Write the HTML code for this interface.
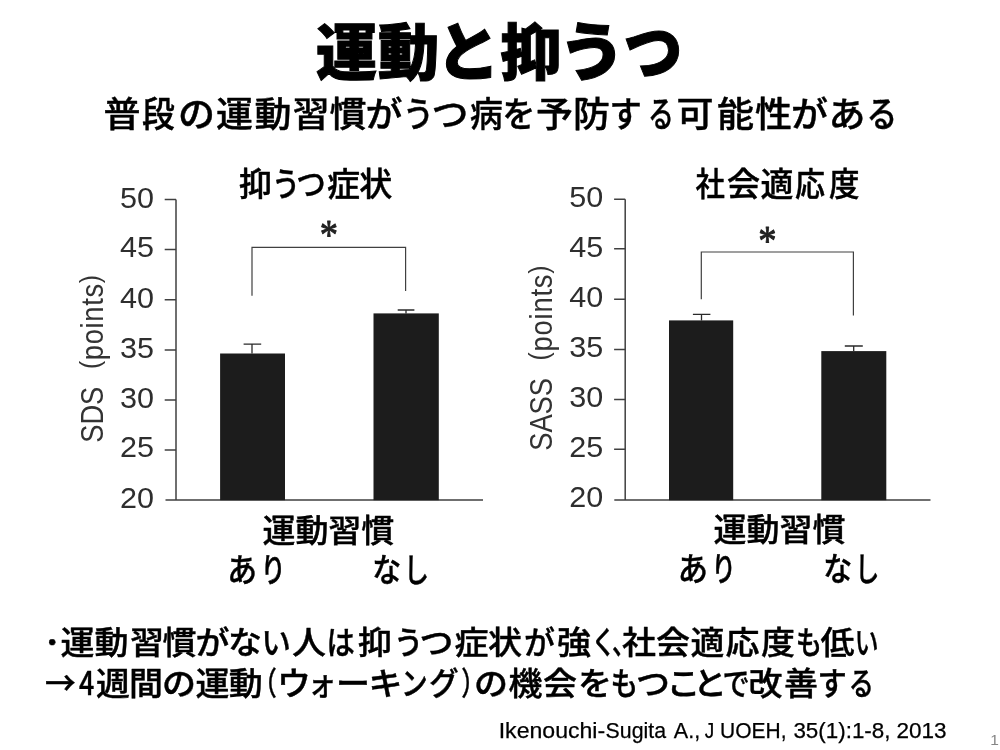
<!DOCTYPE html>
<html lang="ja">
<head>
<meta charset="utf-8">
<title>運動と抑うつ</title>
<style>
html,body{margin:0;padding:0;background:#fff;}
body{width:1000px;height:750px;position:relative;overflow:hidden;font-family:"Liberation Sans","Noto Sans CJK JP",sans-serif;color:#000;}
svg{position:absolute;left:0;top:0;display:block;}
</style>
</head>
<body>

<svg width="1000" height="750" viewBox="0 0 1000 750" font-family="'Liberation Sans',sans-serif">
 <g id="c1" stroke="#404040" stroke-width="1.5" fill="none">
  <path d="M176 199.5V500M165.5 500H483"/>
  <path d="M164.7 199.5H176M164.7 249.4H176M164.7 299.8H176M164.7 350H176M164.7 400H176M164.7 449.9H176"/>
  <path d="M252 295.8V247.4H405.6V291" stroke-width="1.2"/>
  <path d="M252 353.5V344.2M243.6 344.2H261.2M406 313.5V310M397.7 310H414.4" stroke="#2a2a2a" stroke-width="1.3"/>
 </g>
 <rect x="220.1" y="353.5" width="64.9" height="146.7" fill="#1c1c1c"/>
 <rect x="373.5" y="313.4" width="65.3" height="186.8" fill="#1c1c1c"/>
 <g id="c2" stroke="#404040" stroke-width="1.5" fill="none">
  <path d="M625.2 199.2V500M614.3 499.9H930.5"/>
  <path d="M614.1 199.2H625.2M614.1 248.8H625.2M614.1 299.3H625.2M614.1 349.5H625.2M614.1 399.5H625.2M614.1 449.3H625.2"/>
  <path d="M701.3 299.3V252H853.4V315.6" stroke-width="1.2"/>
  <path d="M701.5 320.4V314.4M692.9 314.4H710.4M853.7 351.1V346M844.8 346H862.8" stroke="#2a2a2a" stroke-width="1.3"/>
 </g>
 <rect x="669" y="320.4" width="64.2" height="179.8" fill="#1c1c1c"/>
 <rect x="821.3" y="351.1" width="65" height="149.1" fill="#1c1c1c"/>
 <g id="ticks" fill="#2e2e2e" font-size="29">
  <text x="119.9" y="207.7" textLength="34.0" lengthAdjust="spacingAndGlyphs">50</text>
  <text x="119.9" y="257.3" textLength="34.0" lengthAdjust="spacingAndGlyphs">45</text>
  <text x="119.9" y="307.5" textLength="34.0" lengthAdjust="spacingAndGlyphs">40</text>
  <text x="119.9" y="357.5" textLength="34.0" lengthAdjust="spacingAndGlyphs">35</text>
  <text x="119.9" y="407.5" textLength="34.0" lengthAdjust="spacingAndGlyphs">30</text>
  <text x="119.9" y="457.3" textLength="34.0" lengthAdjust="spacingAndGlyphs">25</text>
  <text x="119.9" y="507.7" textLength="34.0" lengthAdjust="spacingAndGlyphs">20</text>
  <text x="569.2" y="206.8" textLength="34.0" lengthAdjust="spacingAndGlyphs">50</text>
  <text x="569.2" y="256.7" textLength="34.0" lengthAdjust="spacingAndGlyphs">45</text>
  <text x="569.2" y="306.8" textLength="34.0" lengthAdjust="spacingAndGlyphs">40</text>
  <text x="569.2" y="356.8" textLength="34.0" lengthAdjust="spacingAndGlyphs">35</text>
  <text x="569.2" y="406.7" textLength="34.0" lengthAdjust="spacingAndGlyphs">30</text>
  <text x="569.2" y="456.5" textLength="34.0" lengthAdjust="spacingAndGlyphs">25</text>
  <text x="569.2" y="506.8" textLength="34.0" lengthAdjust="spacingAndGlyphs">20</text>
 </g>
 <g id="ylab" fill="#333" font-size="27.3">
  <text transform="translate(102.6 442.8) rotate(-90) scale(1 1.12)" dx="0 0 0 0 10 .7 .7 .7 .7 .7 .7 .7">SDS <tspan font-size="24.5" dy="-3.4">(</tspan><tspan dy="3.4">points</tspan><tspan font-size="24.5" dy="-3.4">)</tspan></text>
  <text transform="translate(552.2 450.8) rotate(-90) scale(1 1.12)" dx="0 0 0 0 0 10 .8 .8 .8 .8 .8 .8 .8">SASS <tspan font-size="24.5" dy="-3.4">(</tspan><tspan dy="3.4">points</tspan><tspan font-size="24.5" dy="-3.4">)</tspan></text>
 </g>
 <g id="ast" fill="#222" stroke="#222" stroke-width="0.9" stroke-linejoin="round" font-size="41" font-family="'Liberation Serif',serif" text-anchor="middle">
  <text transform="translate(328.9 249.2) scale(.89 1.05)">*</text>
  <text transform="translate(767.4 255.3) scale(.89 1.05)">*</text>
 </g>
<text id="cite" y="738" font-size="22.4" fill="#000" stroke="#000" stroke-width="0.25" aria-label="Ikenouchi-Sugita A., J UOEH, 35(1):1-8, 2013"><tspan x="498.7" textLength="106.5" lengthAdjust="spacingAndGlyphs">Ikenouchi-</tspan><tspan x="605.6" textLength="60.4" lengthAdjust="spacingAndGlyphs">Sugita</tspan> <tspan x="673.8" textLength="26.4" lengthAdjust="spacingAndGlyphs">A.,</tspan> <tspan x="704.7" textLength="9.5" lengthAdjust="spacingAndGlyphs">J</tspan> <tspan x="720.1" textLength="66.4" lengthAdjust="spacingAndGlyphs">UOEH,</tspan> <tspan x="793.4" textLength="97.1" lengthAdjust="spacingAndGlyphs">35(1):1-8,</tspan> <tspan x="896.4" textLength="50.1" lengthAdjust="spacingAndGlyphs">2013</tspan></text>
<text id="pg" x="990.2" y="745.2" font-size="15.5" fill="#858585">1</text>
<text id="ttl" aria-label="運動と抑うつ" y="75" font-size="61.5" font-weight="900" fill="#000" stroke="#000" stroke-width="1.0" stroke-linejoin="miter" font-family="'Liberation Sans','Noto Sans CJK JP',sans-serif"><tspan x="315.7 377.8">運動</tspan><tspan x="435.8" font-size="64" textLength="64.4" lengthAdjust="spacingAndGlyphs">と</tspan><tspan x="500.3">抑</tspan><tspan x="558.5" font-size="64" textLength="67.1" lengthAdjust="spacingAndGlyphs">う</tspan><tspan x="623.6" font-size="64" textLength="58.9" lengthAdjust="spacingAndGlyphs">つ</tspan></text>
<g id="jtxt" font-family="'Liberation Sans','Noto Sans CJK JP',sans-serif" font-weight="500" fill="#000" stroke="#000" stroke-width="0.45" stroke-linejoin="round">
 <text aria-label="普段の運動習慣がうつ病を予防する可能性がある" y="127.5" font-size="37" transform="matrix(1 0 0 0.95 0 6.38)"><tspan x="103.5">普</tspan><tspan x="142.1" textLength="32.9" lengthAdjust="spacingAndGlyphs">段</tspan><tspan x="178.0 216.0 254.5 292.5 329.5 365.5">の運動習慣が</tspan><tspan x="402.8" textLength="31.3" lengthAdjust="spacingAndGlyphs">う</tspan><tspan x="431.5">つ</tspan><tspan x="470.0" textLength="32.9" lengthAdjust="spacingAndGlyphs">病</tspan><tspan x="502.3" textLength="33.3" lengthAdjust="spacingAndGlyphs">を</tspan><tspan x="536.0 573.0">予防</tspan><tspan x="609.4" textLength="32.4" lengthAdjust="spacingAndGlyphs">す</tspan><tspan x="647.9" textLength="25.9" lengthAdjust="spacingAndGlyphs">る</tspan><tspan x="676.5 717.0 755.0 791.0 828.5">可能性があ</tspan><tspan x="866.5" textLength="30.8" lengthAdjust="spacingAndGlyphs">る</tspan></text>
 <text aria-label="・運動習慣がない人は抑うつ症状が強く、社会適応度も低い" y="654" font-size="34" transform="matrix(1 0 0 0.94 0 39.24)"><tspan x="39.1" dy="-2.5" font-size="26.4">・</tspan><tspan x="60.5 94.5 130.0 162.5 195.5 228.0" dy="2.5">運動習慣がな</tspan><tspan x="261.4" textLength="29.3" lengthAdjust="spacingAndGlyphs">い</tspan><tspan x="292.0">人</tspan><tspan x="326.5" textLength="28.3" lengthAdjust="spacingAndGlyphs">は</tspan><tspan x="358.0">抑</tspan><tspan x="393.7" textLength="29.6" lengthAdjust="spacingAndGlyphs">う</tspan><tspan x="419.5 454.5 488.0">つ症状</tspan><tspan x="524.1" textLength="30.9" lengthAdjust="spacingAndGlyphs">が</tspan><tspan x="557.0">強</tspan><tspan x="591.4" textLength="24.3" lengthAdjust="spacingAndGlyphs">く</tspan><tspan x="612.0" textLength="23.8" lengthAdjust="spacingAndGlyphs">、</tspan><tspan x="622.0 656.0 690.5 725.5 761.0">社会適応度</tspan><tspan x="795.7" textLength="26.4" lengthAdjust="spacingAndGlyphs">も</tspan><tspan x="820.5">低</tspan><tspan x="854.8" textLength="23.8" lengthAdjust="spacingAndGlyphs">い</tspan></text>
 <text aria-label="→4週間の運動（ウォーキング）の機会をもつことで改善する" y="695" font-size="34" transform="matrix(1 0 0 0.94 0 41.7)"><tspan x="45.1" textLength="30.8" lengthAdjust="spacingAndGlyphs" font-family="'Noto Sans CJK JP',sans-serif">→</tspan><tspan x="79.0" textLength="15.3" lengthAdjust="spacingAndGlyphs" font-family="'Noto Sans CJK JP',sans-serif">4</tspan><tspan x="96.0 129.0 162.0 195.5 228.8">週間の運動</tspan><tspan x="252.9" textLength="23.8" lengthAdjust="spacingAndGlyphs">（</tspan><tspan x="277.0">ウ</tspan><tspan x="307.8" textLength="28.6" lengthAdjust="spacingAndGlyphs">ォ</tspan><tspan x="336.0 368.5">ーキ</tspan><tspan x="400.9" textLength="26.7" lengthAdjust="spacingAndGlyphs">ン</tspan><tspan x="429.1" textLength="29.7" lengthAdjust="spacingAndGlyphs">グ</tspan><tspan x="461.3" textLength="23.8" lengthAdjust="spacingAndGlyphs">）</tspan><tspan x="474.0 508.5 543.0 578.0">の機会を</tspan><tspan x="610.6" textLength="27.7" lengthAdjust="spacingAndGlyphs">も</tspan><tspan x="636.0 666.5 693.0">つこと</tspan><tspan x="722.4" textLength="27.2" lengthAdjust="spacingAndGlyphs">で</tspan><tspan x="748.5 784.0">改善</tspan><tspan x="817.4" textLength="29.3" lengthAdjust="spacingAndGlyphs">す</tspan><tspan x="848.8" textLength="25.2" lengthAdjust="spacingAndGlyphs">る</tspan></text>
 <text aria-label="抑うつ症状" y="195.6" font-size="33"><tspan x="239.0">抑</tspan><tspan x="271.7" textLength="28.5" lengthAdjust="spacingAndGlyphs">う</tspan><tspan x="296.2" textLength="29.6" lengthAdjust="spacingAndGlyphs">つ</tspan><tspan x="327.0 359.3">症状</tspan></text>
 <text aria-label="社会適応度" y="195.6" font-size="33"><tspan x="695.6" textLength="29.4" lengthAdjust="spacingAndGlyphs">社</tspan><tspan x="727.0 760.5">会適</tspan><tspan x="795.0" textLength="30.0" lengthAdjust="spacingAndGlyphs">応</tspan><tspan x="829.0" textLength="30.5" lengthAdjust="spacingAndGlyphs">度</tspan></text>
 <text aria-label="運動習慣" y="542.3" font-size="33" transform="matrix(1 0 0 0.95 0 27.12)"><tspan x="262.4 295.4 328.3 361.3">運動習慣</tspan></text>
 <text aria-label="あり" y="582.4" font-size="33"><tspan x="227.2" textLength="29.8" lengthAdjust="spacingAndGlyphs">あ</tspan><tspan x="260.5" textLength="25.3" lengthAdjust="spacingAndGlyphs">り</tspan></text>
 <text aria-label="なし" y="582.4" font-size="33"><tspan x="372.2" textLength="29.0" lengthAdjust="spacingAndGlyphs">な</tspan><tspan x="403.8" textLength="25.3" lengthAdjust="spacingAndGlyphs">し</tspan></text>
 <text aria-label="運動習慣" y="541" font-size="33" transform="matrix(1 0 0 0.95 0 27.05)"><tspan x="713.5 746.5 779.4 812.4">運動習慣</tspan></text>
 <text aria-label="あり" y="581" font-size="33"><tspan x="677.8" textLength="30.3" lengthAdjust="spacingAndGlyphs">あ</tspan><tspan x="711.3" textLength="24.8" lengthAdjust="spacingAndGlyphs">り</tspan></text>
 <text aria-label="なし" y="581" font-size="33"><tspan x="823.3" textLength="29.0" lengthAdjust="spacingAndGlyphs">な</tspan><tspan x="855.1" textLength="24.4" lengthAdjust="spacingAndGlyphs">し</tspan></text>
</g>
</svg>


</body>
</html>
